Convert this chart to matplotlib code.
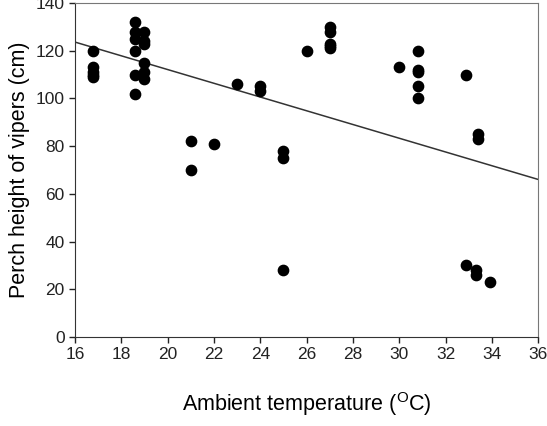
import matplotlib
matplotlib.use("Agg")
import matplotlib.pyplot as plt
import numpy as np

plt.rcParams['font.family'] = ['Liberation Sans', 'DejaVu Sans']

# ambient temperature (C) and perch height (cm)
temp = [16.8, 16.8, 16.8, 16.8, 16.8,
        18.6, 18.6, 18.6, 18.6, 18.6, 18.6,
        19.0, 19.0, 19.0, 19.0, 19.0, 19.0,
        21.0, 21.0, 22.0, 23.0, 24.0, 24.0,
        25.0, 25.0, 25.0, 26.0,
        27.0, 27.0, 27.0, 27.0, 27.0,
        30.0, 30.8, 30.8, 30.8, 30.8, 30.8,
        32.9, 33.4, 33.4,
        32.9, 33.3, 33.3, 33.9]
height = [120, 113, 111, 110, 109,
          132, 128, 125, 120, 110, 102,
          128, 124, 123, 115, 111, 108,
          82, 70, 81, 106, 105, 103,
          78, 75, 28, 120,
          130, 128, 123, 122, 121,
          113, 120, 112, 111, 105, 100,
          110, 85, 83,
          30, 28, 26, 23]

# regression line as printed in the figure
fit_slope = -2.88
fit_intercept = 169.7

xticks = np.arange(16, 37, 2)
yticks = np.arange(0, 141, 20)

fig = plt.figure(figsize=(5.47, 4.26), dpi=100)
ax = fig.add_axes([0.137, 0.209, 0.847, 0.784])

ax.scatter(temp, height, s=55, color='black', zorder=3)

xl = np.array([16, 36])
ax.plot(xl, fit_slope * xl + fit_intercept, color='#333333', lw=1.1)

ax.set_xlim(16, 36)
ax.set_ylim(0, 140)
ax.set_xticks(xticks)
ax.set_yticks(yticks)
ax.tick_params(direction='out', length=4, width=1, labelsize=12.5, colors='#222222')
for side in ['left', 'bottom']:
    ax.spines[side].set_color('#333333')
for side in ['top', 'right']:
    ax.spines[side].set_color('#777777')

ax.set_xlabel('Ambient temperature ($\\mathregular{^{O}}$C)', fontsize=15.5, labelpad=20)
ax.set_ylabel('Perch height of vipers (cm)', fontsize=15.5, labelpad=4)

fig.savefig('out.png', dpi=100)
